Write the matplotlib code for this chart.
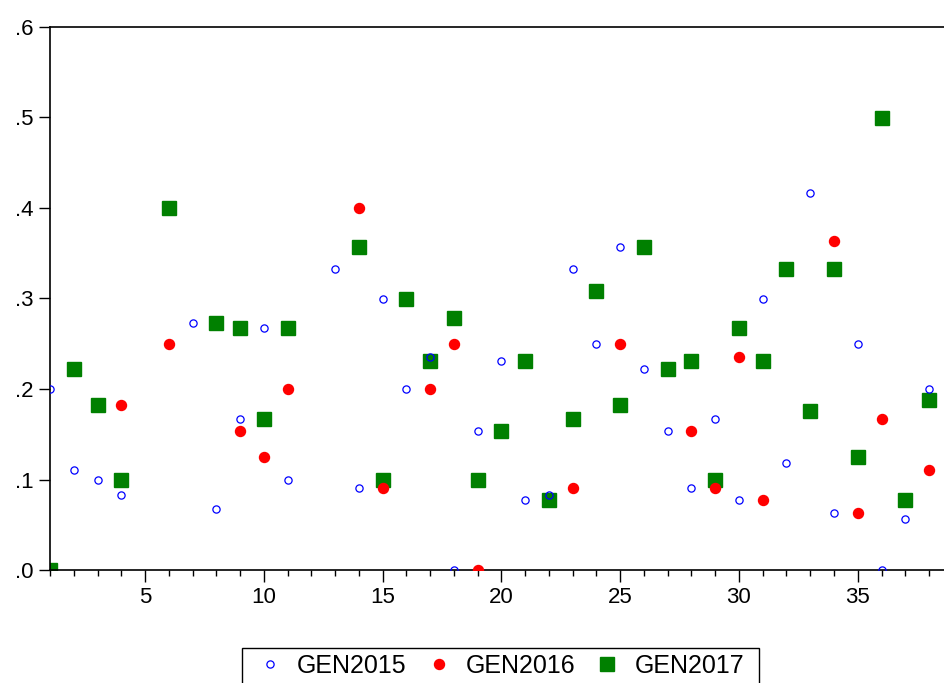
import numpy as np
import matplotlib
matplotlib.use("Agg")
import matplotlib.pyplot as plt
from matplotlib.patches import Rectangle
from matplotlib.ticker import MultipleLocator, FuncFormatter

nan = np.nan

obs = list(range(1, 39))

gen2015 = [0.2, 0.111, 0.1, 0.083, nan, nan, 0.273, 0.067, 0.167, 0.267,
           0.1, nan, 0.333, 0.091, 0.3, 0.2, 0.235, 0.0, 0.154, 0.231,
           0.077, 0.083, 0.333, 0.25, 0.357, 0.222, 0.154, 0.091, 0.167, 0.077,
           0.3, 0.118, 0.417, 0.0625, 0.25, 0.0, 0.056, 0.2]
gen2016 = [nan, nan, nan, 0.182, nan, 0.25, nan, nan, 0.154, 0.125,
           0.2, nan, nan, 0.4, 0.091, nan, 0.2, 0.25, 0.0, nan,
           nan, nan, 0.091, nan, 0.25, nan, nan, 0.154, 0.091, 0.235,
           0.077, nan, nan, 0.364, 0.0625, 0.167, nan, 0.111]
gen2017 = [0.0, 0.222, 0.182, 0.1, nan, 0.4, nan, 0.273, 0.267, 0.167,
           0.267, nan, nan, 0.357, 0.1, 0.3, 0.231, 0.278, 0.1, 0.154,
           0.231, 0.077, 0.167, 0.308, 0.182, 0.357, 0.222, 0.231, 0.1, 0.267,
           0.231, 0.333, 0.176, 0.333, 0.125, 0.5, 0.077, 0.188]

plt.rcParams['font.family'] = ['Liberation Sans', 'DejaVu Sans']

W, H = 944, 683
fig = plt.figure(figsize=(W / 100, H / 100), dpi=100)
ax = fig.add_axes([50 / W, 1 - 570 / H, 1 - 50 / W, (570 - 27) / H])

ax.plot(obs, gen2015, linestyle='none', marker='o', ms=5.2, mfc='none',
        mec='#0000FF', mew=0.9, label='GEN2015', zorder=3)
ax.plot(obs, gen2016, linestyle='none', marker='o', ms=7.2, mfc='#FF0000',
        mec='#FF0000', label='GEN2016', zorder=4)
ax.plot(obs, gen2017, linestyle='none', marker='s', ms=10, mfc='#008000',
        mec='#008000', label='GEN2017', zorder=2)

ax.set_xlim(1, 38.63)
ax.set_ylim(0, 0.6)
ax.xaxis.set_major_locator(MultipleLocator(5))
ax.xaxis.set_minor_locator(MultipleLocator(1))
ax.yaxis.set_major_locator(MultipleLocator(0.1))
ax.yaxis.set_major_formatter(FuncFormatter(lambda v, p: ('%.1f' % v).lstrip('0')))
ax.tick_params(axis='y', length=8, width=1, labelsize=16, pad=4)
ax.tick_params(axis='x', which='major', length=8.5, width=1, labelsize=16, pad=4)
ax.tick_params(axis='x', which='minor', length=4.3, width=1)
ax.spines['right'].set_visible(False)
for s in ['left', 'bottom', 'top']:
    ax.spines[s].set_linewidth(1.2)

# legend box below the plot, partly cut by the bottom edge
fig.patches.append(Rectangle((242 / W, 1 - 695 / H), (759 - 242) / W, (695 - 648) / H,
                             transform=fig.transFigure, fill=False,
                             edgecolor='black', linewidth=1.0))
fig.legend(loc='upper left', bbox_to_anchor=(255 / W, 1 - 654 / H),
           ncol=3, fontsize=18, frameon=False, borderpad=0, borderaxespad=0,
           handlelength=1.2, handletextpad=0.48, columnspacing=0.68)

fig.savefig('out.png', dpi=100)
